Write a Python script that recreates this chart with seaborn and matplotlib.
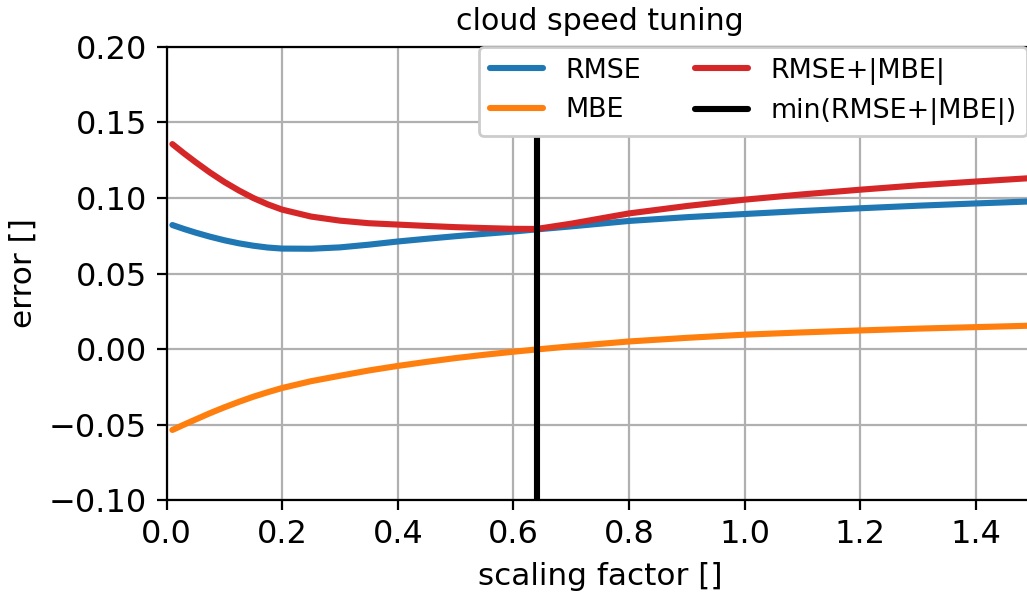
import matplotlib
matplotlib.use("Agg")
import matplotlib.pyplot as plt
from matplotlib.lines import Line2D
import seaborn as sns
import pandas as pd

# data
scaling = [0.01, 0.03, 0.05, 0.075, 0.1, 0.125, 0.15, 0.175, 0.2, 0.25, 0.3, 0.35,
           0.4, 0.45, 0.5, 0.55, 0.6, 0.64, 0.7, 0.8, 0.9, 1.0, 1.1, 1.2, 1.3,
           1.4, 1.5]
rmse = [0.0821, 0.0795, 0.0771, 0.0744, 0.0720, 0.0700, 0.0684, 0.0672, 0.0665,
        0.0664, 0.0673, 0.0691, 0.0712, 0.0730, 0.0747, 0.0763, 0.0778, 0.0792,
        0.0812, 0.0848, 0.0873, 0.0894, 0.0914, 0.0932, 0.0949, 0.0964, 0.0978]
mbe = [-0.0536, -0.0501, -0.0467, -0.0425, -0.0386, -0.0350, -0.0316, -0.0286,
       -0.0258, -0.0213, -0.0177, -0.0142, -0.0112, -0.0085, -0.0060, -0.0038,
       -0.0018, -0.0003, 0.0018, 0.0050, 0.0074, 0.0095, 0.0110, 0.0123, 0.0135,
       0.0145, 0.0155]
rmse_mbe = [0.1357, 0.1296, 0.1238, 0.1169, 0.1106, 0.1050, 0.1000, 0.0958, 0.0923,
            0.0877, 0.0850, 0.0833, 0.0824, 0.0815, 0.0807, 0.0801, 0.0796, 0.0795,
            0.0830, 0.0898, 0.0947, 0.0989, 0.1024, 0.1055, 0.1084, 0.1109, 0.1133]
best_factor = 0.64

series_names = ["RMSE", "MBE", "RMSE+|MBE|"]
series_colors = ["#1f77b4", "#ff7f0e", "#d62728"]
min_label = "min(RMSE+|MBE|)"
x_ticks = [0.0, 0.2, 0.4, 0.6, 0.8, 1.0, 1.2, 1.4]
x_ticklabels = ["0.0", "0.2", "0.4", "0.6", "0.8", "1.0", "1.2", "1.4"]
y_ticks = [-0.10, -0.05, 0.00, 0.05, 0.10, 0.15, 0.20]
y_ticklabels = ["\u22120.10", "\u22120.05", "0.00", "0.05", "0.10", "0.15", "0.20"]

sns.set_style("ticks", rc={
    "axes.edgecolor": "black",
    "text.color": "black",
    "axes.labelcolor": "black",
    "xtick.color": "black",
    "ytick.color": "black",
    "grid.color": "#b0b0b0",
    "grid.linewidth": 0.8,
})
plt.rcParams["font.family"] = ["DejaVu Sans"]
plt.rcParams["font.size"] = 10

df = pd.DataFrame({
    "scaling": scaling * 3,
    "value": rmse + mbe + rmse_mbe,
    "series": [n for n in series_names for _ in scaling],
})

fig = plt.figure(figsize=(1027 / 200, 594 / 200), dpi=200)
ax = fig.add_axes([0.1622, 0.1582, 0.8443, 0.7627])

sns.lineplot(data=df, x="scaling", y="value", hue="series",
             hue_order=series_names, palette=series_colors,
             linewidth=2.2, ax=ax, legend=False)
ax.axvline(best_factor, color="black", linewidth=2.2)

ax.set_xlim(0, 1.5)
ax.set_ylim(-0.10, 0.20)
ax.set_xticks(x_ticks)
ax.set_xticklabels(x_ticklabels, fontsize=11.5)
ax.set_yticks(y_ticks)
ax.set_yticklabels(y_ticklabels, fontsize=11.5)
ax.grid(True)
ax.set_xlabel("scaling factor []", fontsize=11.2)
ax.set_ylabel("error []", fontsize=11.2)
ax.set_title("cloud speed tuning", fontsize=10.8)

handles = [Line2D([], [], color=c, lw=2.2) for c in series_colors] + \
          [Line2D([], [], color="black", lw=2.2)]
labels = series_names + [min_label]
ax.legend(handles, labels, ncol=2, fontsize=9.7, framealpha=1.0,
          loc="upper left", bbox_to_anchor=(0.36, 1.0), borderaxespad=0)

fig.savefig("out.png", dpi=200)
